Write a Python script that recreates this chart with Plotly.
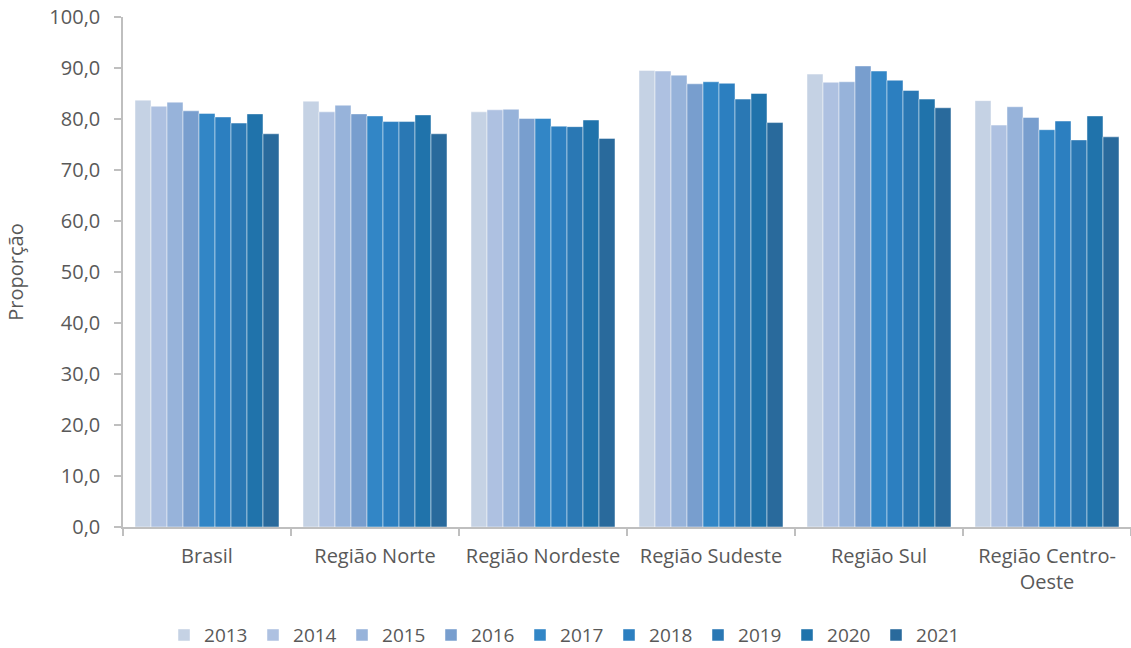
import plotly.graph_objects as go

categories = ["Brasil", "Região Norte", "Região Nordeste", "Região Sudeste", "Região Sul", "Região Centro-<br>Oeste"]
years = ["2013", "2014", "2015", "2016", "2017", "2018", "2019", "2020", "2021"]

v2013 = [83.7, 83.5, 81.4, 89.5, 88.8, 83.6]
v2014 = [82.5, 81.4, 81.8, 89.4, 87.2, 78.8]
v2015 = [83.3, 82.7, 81.9, 88.6, 87.3, 82.4]
v2016 = [81.6, 81.0, 80.1, 86.9, 90.4, 80.3]
v2017 = [81.1, 80.6, 80.1, 87.3, 89.4, 77.9]
v2018 = [80.4, 79.5, 78.6, 87.0, 87.6, 79.6]
v2019 = [79.2, 79.5, 78.5, 83.9, 85.6, 75.9]
v2020 = [81.0, 80.8, 79.8, 85.0, 83.9, 80.6]
v2021 = [77.1, 77.1, 76.2, 79.3, 82.2, 76.5]

series = [v2013, v2014, v2015, v2016, v2017, v2018, v2019, v2020, v2021]
colors = ["#C5D2E4", "#AEC1E1", "#97B3DA", "#789ECE", "#3286C6",
          "#2C7FC0", "#2A78B4", "#2073AB", "#296A9C"]

FONT = "Open Sans"
GRAY = "#595959"

fig = go.Figure()
for y, vals, c in zip(years, series, colors):
    fig.add_trace(go.Bar(
        name=y, x=categories, y=vals,
        marker=dict(color=c, line=dict(color="rgba(255,255,255,0.45)", width=1)),
    ))

fig.update_layout(
    width=1131, height=648,
    paper_bgcolor="white", plot_bgcolor="white",
    barmode="group", bargap=0.143, bargroupgap=0,
    separators=",.",
    margin=dict(l=123, r=0, t=17, b=121, autoexpand=False),
    font=dict(family=FONT, color=GRAY, size=18),
    legend=dict(
        orientation="h", x=0.0407, xanchor="left", y=-0.212, yanchor="middle",
        font=dict(family=FONT, size=19, color=GRAY),
        entrywidth=44, entrywidthmode="pixels",
        itemclick=False, itemdoubleclick=False,
    ),
    showlegend=True,
)

fig.update_yaxes(
    range=[0, 100], dtick=10, tickformat=".1f",
    showgrid=False, zeroline=False, automargin=False,
    showline=True, linecolor="#BFBFBF", linewidth=1.5,
    ticks="outside", ticklen=7, tickcolor="#BFBFBF", tickwidth=1.5,
    ticklabelstandoff=10,
    tickfont=dict(family=FONT, size=20, color=GRAY),
    title=dict(text="Proporção", font=dict(family=FONT, size=20, color=GRAY), standoff=20),
)
fig.update_xaxes(
    showgrid=False, showline=True, linecolor="#BFBFBF", linewidth=1.5,
    ticks="outside", ticklen=7, tickcolor="#BFBFBF", tickwidth=1.5,
    tickson="boundaries", automargin=False, ticklabelstandoff=10,
    tickfont=dict(family=FONT, size=20, color=GRAY),
)

fig.write_html(
    "out.html",
    config={"displayModeBar": False},
    post_script="document.body.style.margin='0';document.body.style.overflow='hidden';",
)
